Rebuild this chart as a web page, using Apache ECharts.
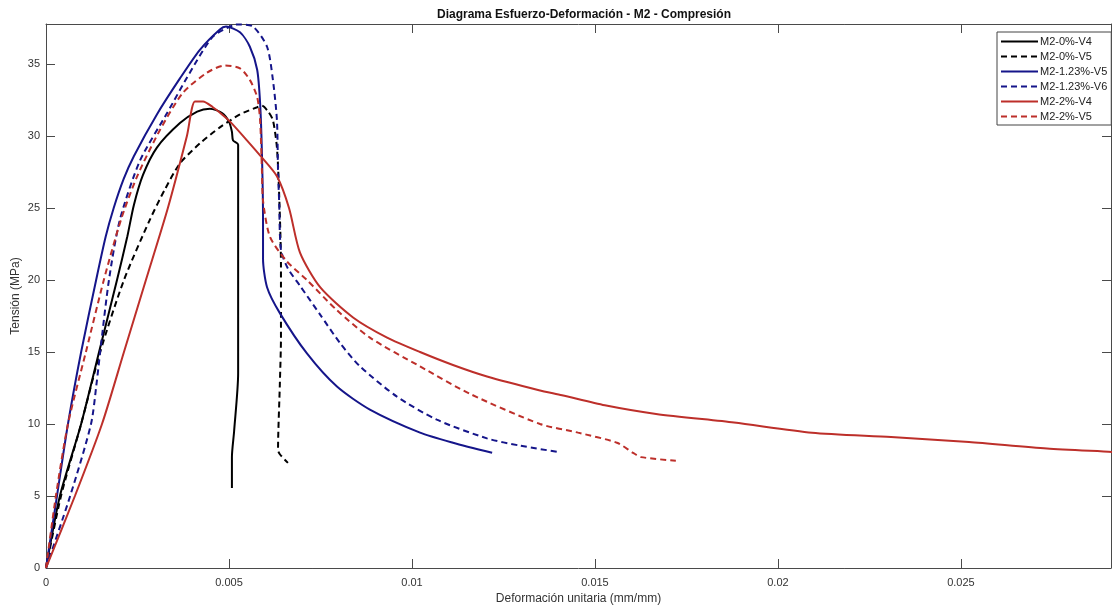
<!DOCTYPE html>
<html>
<head>
<meta charset="utf-8">
<script src="https://cdn.jsdelivr.net/npm/echarts@6/dist/echarts.min.js"></script>
<style>
  html, body { margin: 0; padding: 0; background: #fff; }
  #chart { width: 1112px; height: 608px; }
</style>
</head>
<body>
<div id="chart"></div>
<script>
  // curvas: [deformación (mm/mm), tensión (MPa)]
  const m2_0_v4 = [
    [0, 0], [0.00038, 5], [0.00096, 10], [0.00145, 15], [0.00194, 20], [0.00222, 23],
    [0.00240, 25.2], [0.00265, 27.3], [0.00303, 29.2], [0.00366, 30.9], [0.00413, 31.7],
    [0.00448, 31.9], [0.00481, 31.6], [0.00500, 31.0], [0.00508, 30.3], [0.00511, 29.7],
    [0.00525, 29.4], [0.00525, 20], [0.00525, 13.5], [0.00514, 9.5], [0.00508, 7.7], [0.00508, 5.55]
  ];
  const m2_0_v5 = [
    [0, 0], [0.00041, 5], [0.00096, 10], [0.00148, 15], [0.00213, 20], [0.00284, 24.2],
    [0.00325, 26.3], [0.00366, 28.1], [0.00421, 29.5], [0.00475, 30.6], [0.00530, 31.5],
    [0.00577, 32.0], [0.00590, 32.1], [0.00607, 31.7], [0.00620, 31.1], [0.00631, 29.2],
    [0.00637, 26], [0.00642, 21], [0.00642, 16], [0.00639, 12.8], [0.00634, 8.2],
    [0.00639, 7.9], [0.00661, 7.3]
  ];
  const m2_123_v5 = [
    [0, 0], [0.00030, 5], [0.00060, 10], [0.00096, 15], [0.00137, 20], [0.00163, 23],
    [0.00185, 25], [0.00212, 27], [0.00240, 28.6], [0.00303, 31.5], [0.00366, 34.0],
    [0.00421, 36.0], [0.00475, 37.4], [0.00492, 37.6], [0.00530, 37.2], [0.00557, 36.2],
    [0.00577, 34.6], [0.00585, 32.3], [0.00590, 28.8], [0.00593, 24.2], [0.00593, 21.5],
    [0.00604, 19.5], [0.00639, 17.7], [0.00713, 14.9], [0.00795, 12.6], [0.00885, 11.0],
    [0.01022, 9.4], [0.01112, 8.7], [0.01219, 8.0]
  ];
  const m2_123_v6 = [
    [0, 0], [0.00066, 5], [0.00123, 10], [0.00139, 13], [0.00148, 15], [0.00172, 20],
    [0.00202, 24.2], [0.00257, 28.3], [0.00331, 31.6], [0.00393, 34.4], [0.00456, 36.9],
    [0.00511, 37.7], [0.00530, 37.75], [0.00566, 37.6], [0.00604, 36.2], [0.00620, 33.9],
    [0.00631, 31.1], [0.00634, 27.6], [0.00637, 25.5], [0.00642, 22.1], [0.00661, 20.8],
    [0.00694, 19.6], [0.00749, 17.6], [0.00804, 15.6], [0.00858, 14.0], [0.00959, 11.9],
    [0.01068, 10.3], [0.01205, 9.0], [0.01295, 8.5], [0.01402, 8.05]
  ];
  const m2_2_v4 = [
    [0, 0], [0.00079, 5], [0.00153, 10], [0.00213, 15], [0.00273, 20], [0.00333, 25],
    [0.00385, 30], [0.00407, 32.4], [0.00429, 32.4], [0.00456, 32.0], [0.00481, 31.5],
    [0.00503, 31.0], [0.00549, 29.7], [0.00590, 28.5], [0.00631, 27.2], [0.00664, 25.0],
    [0.00694, 21.9], [0.00749, 19.5], [0.00839, 17.4], [0.00932, 16.0], [0.01022, 15.0],
    [0.01112, 14.1], [0.01205, 13.3], [0.01347, 12.35], [0.01410, 12.0], [0.01527, 11.3],
    [0.01667, 10.7], [0.01880, 10.1], [0.02093, 9.4], [0.02309, 9.1], [0.02522, 8.75],
    [0.02735, 8.3], [0.02913, 8.06], [0.02962, 7.98]
  ];
  const m2_2_v5 = [
    [0, 0], [0.00027, 5], [0.00060, 10], [0.00109, 15], [0.00158, 20], [0.00205, 24.2],
    [0.00249, 27.2], [0.00311, 30.4], [0.00374, 33.0], [0.00440, 34.4], [0.00489, 34.9],
    [0.00530, 34.7], [0.00557, 33.9], [0.00577, 32.7], [0.00585, 31.1], [0.00590, 27.6],
    [0.00593, 25.5], [0.00612, 23.0], [0.00658, 21.3], [0.00713, 20.0], [0.00795, 17.9],
    [0.00885, 16.0], [0.01022, 14.0], [0.01158, 12.1], [0.01350, 10.0], [0.01454, 9.4],
    [0.01560, 8.7], [0.01604, 8.0], [0.01626, 7.7], [0.01721, 7.45]
  ];

  const names = ['M2-0%-V4', 'M2-0%-V5', 'M2-1.23%-V5', 'M2-1.23%-V6', 'M2-2%-V4', 'M2-2%-V5'];
  const curves = [m2_0_v4, m2_0_v5, m2_123_v5, m2_123_v6, m2_2_v4, m2_2_v5];
  const colors = ['#000000', '#000000', '#15158a', '#15158a', '#bd2f2a', '#bd2f2a'];
  const dashed = [false, true, false, true, false, true];

  const xMax = 0.0291;
  const yMax = 37.78;
  const axisColor = '#4a4a4a';
  const font = 'Liberation Sans, Arial, sans-serif';

  let myChart = echarts.init(document.getElementById('chart'));

  // eje "espejo" sin etiquetas para cerrar la caja con marcas hacia dentro
  function boxAxis(base, pos) {
    return Object.assign({}, base, {
      position: pos,
      name: '',
      axisLabel: { show: false }
    });
  }

  const xBase = {
    type: 'value',
    min: 0,
    max: xMax,
    interval: 0.005,
    axisLine: { show: true, onZero: false, lineStyle: { color: axisColor, width: 1 } },
    axisTick: { show: true, inside: true, length: 9, lineStyle: { color: axisColor } },
    splitLine: { show: false },
    axisLabel: {
      color: '#333', fontSize: 11, fontFamily: font, margin: 9,
      formatter: function (v) {
        let r = Math.round(v / 0.005);
        if (Math.abs(v - r * 0.005) > 1e-9) return '';
        return String(Number((r * 0.005).toFixed(3)));
      }
    }
  };
  const yBase = {
    type: 'value',
    min: 0,
    max: yMax,
    interval: 5,
    axisLine: { show: true, onZero: false, lineStyle: { color: axisColor, width: 1 } },
    axisTick: { show: true, inside: true, length: 9, lineStyle: { color: axisColor } },
    splitLine: { show: false },
    axisLabel: {
      color: '#333', fontSize: 11, fontFamily: font, margin: 6,
      formatter: function (v) {
        return (Math.abs(v / 5 - Math.round(v / 5)) > 1e-9) ? '' : String(Math.round(v));
      }
    }
  };

  myChart.setOption({
    animation: false,
    backgroundColor: '#fff',
    title: {
      text: 'Diagrama Esfuerzo-Deformación - M2 - Compresión',
      left: 579,
      textAlign: 'center',
      top: 4,
      textStyle: { fontSize: 12, fontWeight: 'bold', color: '#111', fontFamily: font }
    },
    legend: {
      orient: 'vertical',
      left: 997,
      top: 32,
      data: names,
      itemWidth: 37,
      itemHeight: 10,
      itemGap: 4,
      padding: [4, 4, 3, 3],
      borderColor: '#444',
      borderWidth: 1,
      backgroundColor: '#fff',
      itemStyle: { color: 'transparent', borderColor: 'transparent', borderWidth: 0, opacity: 0 },
      textStyle: { fontSize: 11, color: '#222', fontFamily: font, padding: [0, 0, 0, -3] }
    },
    grid: { left: 46, right: 1, top: 24, bottom: 40, outerBoundsMode: 'none', containLabel: false },
    xAxis: [
      Object.assign({}, xBase, {
        position: 'bottom',
        name: 'Deformación unitaria (mm/mm)',
        nameLocation: 'middle',
        nameGap: 25,
        nameTextStyle: { fontSize: 12, color: '#333', fontFamily: font }
      }),
      boxAxis(xBase, 'top')
    ],
    yAxis: [
      Object.assign({}, yBase, {
        position: 'left',
        name: 'Tensión (MPa)',
        nameLocation: 'middle',
        nameGap: 24,
        nameMoveOverlap: false,
        nameTextStyle: { fontSize: 12, color: '#333', fontFamily: font }
      }),
      boxAxis(yBase, 'right')
    ],
    series: curves.map(function (d, i) {
      return {
        name: names[i],
        type: 'line',
        data: d,
        xAxisIndex: 0,
        yAxisIndex: 0,
        symbol: 'none',
        smooth: 0.25,
        clip: true,
        color: colors[i],
        lineStyle: {
          color: colors[i],
          width: 2,
          type: dashed[i] ? [6, 4] : 'solid'
        }
      };
    })
  });
</script>
</body>
</html>
